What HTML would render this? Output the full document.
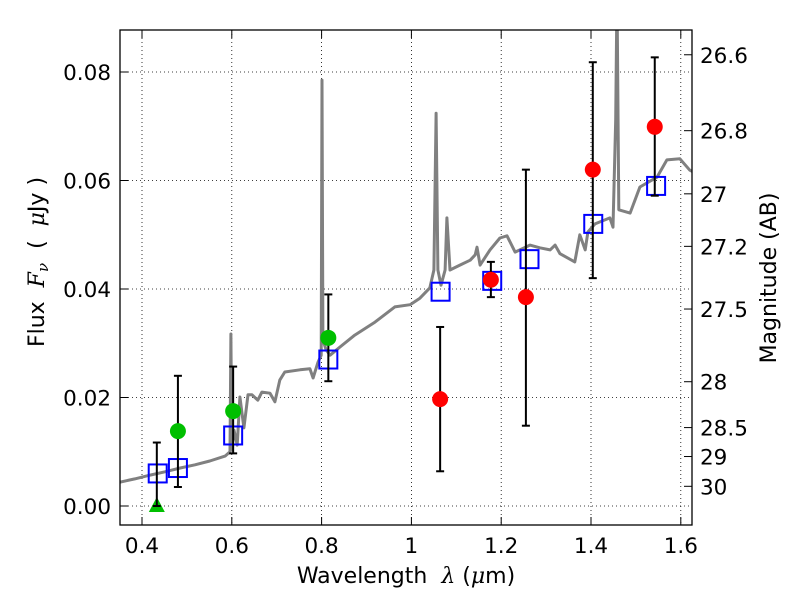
<!DOCTYPE html>
<html><head><meta charset="utf-8"><style>
body{margin:0;background:#fff;}
svg{display:block;font-family:"DejaVu Sans","Liberation Sans",sans-serif;}
</style></head><body>
<svg id="chart" width="800" height="600" viewBox="0 0 800 600" xmlns="http://www.w3.org/2000/svg">
<defs><clipPath id="plotclip"><rect x="120" y="30" width="572" height="495"/></clipPath></defs>
<rect x="0" y="0" width="800" height="600" fill="#fff"/>
<g id="grid"></g>
<g id="series" clip-path="url(#plotclip)"></g>
<rect x="120" y="30" width="572" height="495" fill="none" stroke="#000" stroke-width="1.3"/>
<g id="ticks"></g>
<text x="406" y="583" font-size="22" text-anchor="middle" xml:space="preserve">Wavelength  <tspan font-style="italic" font-family="DejaVu Serif,serif">λ</tspan> (<tspan font-style="italic" font-family="DejaVu Serif,serif">μ</tspan>m)</text>
<text transform="translate(44,262) rotate(-90)" font-size="22" text-anchor="middle" xml:space="preserve">Flux  <tspan font-style="italic" font-family="DejaVu Serif,serif">F</tspan><tspan font-style="italic" font-family="DejaVu Serif,serif" font-size="15" dy="4">ν</tspan><tspan dy="-4">  (  </tspan><tspan font-style="italic" font-family="DejaVu Serif,serif">μ</tspan>Jy )</text>
<text transform="translate(776,278) rotate(-90)" font-size="22" text-anchor="middle">Magnitude (AB)</text>
</svg>
<script>
const specWl=[0.351,0.384,0.418,0.451,0.485,0.518,0.551,0.585,0.596,0.598,0.600,0.605,0.612,0.618,0.627,0.636,0.645,0.658,0.667,0.685,0.696,0.707,0.718,0.752,0.774,0.781,0.792,0.799,0.801,0.803,0.810,0.819,0.841,0.874,0.919,0.963,0.997,1.019,1.041,1.050,1.055,1.059,1.066,1.075,1.079,1.086,1.108,1.131,1.142,1.146,1.153,1.175,1.197,1.213,1.231,1.264,1.286,1.309,1.320,1.331,1.364,1.375,1.387,1.393,1.409,1.442,1.449,1.455,1.458,1.462,1.487,1.509,1.547,1.569,1.598,1.620,1.63];
const specFlux=[0.0044,0.0050,0.0057,0.0063,0.0070,0.0076,0.0083,0.0092,0.0100,0.0317,0.0103,0.0140,0.0112,0.0201,0.0144,0.0205,0.0205,0.0195,0.0210,0.0208,0.0192,0.0232,0.0247,0.0251,0.0253,0.0236,0.0265,0.0278,0.0785,0.0306,0.0288,0.0278,0.0293,0.0315,0.0339,0.0367,0.0371,0.0383,0.0402,0.0435,0.0724,0.0435,0.0407,0.0435,0.0531,0.0435,0.0444,0.0453,0.0463,0.0477,0.0444,0.0472,0.0494,0.0498,0.0468,0.0481,0.0476,0.0472,0.0481,0.0465,0.0450,0.0500,0.0472,0.0505,0.0520,0.0531,0.0514,0.0712,0.095,0.0546,0.0540,0.0588,0.0606,0.0638,0.0640,0.0619,0.0615];
const modelWl=[0.435,0.48,0.603,0.815,1.065,1.18,1.263,1.405,1.545];
const modelFlux=[0.006,0.007,0.013,0.027,0.0395,0.0415,0.0455,0.052,0.059];
const greenWl=[0.48,0.603,0.815];
const greenFlux=[0.0138,0.0175,0.031];
const greenHi=[0.024,0.0257,0.039];
const greenLo=[0.0035,0.0097,0.023];
const limWl=[0.433];
const limFlux=[0.0];
const limHi=[0.0117];
const redWl=[1.064,1.177,1.255,1.404,1.542];
const redFlux=[0.0197,0.0417,0.0385,0.062,0.0699];
const redHi=[0.033,0.045,0.062,0.0818,0.0827];
const redLo=[0.0064,0.0385,0.0148,0.042,0.0572];
const xTicks=[0.4,0.6,0.8,1.0,1.2,1.4,1.6];
const xTickLabels=["0.4","0.6","0.8","1","1.2","1.4","1.6"];
const yTicks=[0,0.02,0.04,0.06,0.08];
const yTickLabels=["0.00","0.02","0.04","0.06","0.08"];
const magTicks=[26.6,26.8,27,27.2,27.5,28,28.5,29,30];
const magTickLabels=["26.6","26.8","27","27.2","27.5","28","28.5","29","30"];

const NS="http://www.w3.org/2000/svg";
function X(w){return 142+(w-0.4)*449;}
function Y(f){return 506-f*5425;}
function magToFlux(m){return Math.pow(10,(23.9-m)/2.5);}
function mk(tag,attrs,parent){const e=document.createElementNS(NS,tag);for(const k in attrs)e.setAttribute(k,attrs[k]);parent.appendChild(e);return e;}
const grid=document.getElementById('grid'),series=document.getElementById('series'),ticks=document.getElementById('ticks');
const FS=21.5;
xTicks.forEach((t,i)=>{
  const x=X(t);
  const g=mk('line',{x1:x,x2:x,y1:30,y2:525,stroke:'#000','stroke-width':0.8,'stroke-dasharray':'1,3'},grid);
  
  
  mk('line',{x1:x,x2:x,y1:525,y2:517,stroke:'#000','stroke-width':1},ticks);
  mk('line',{x1:x,x2:x,y1:30,y2:38,stroke:'#000','stroke-width':1},ticks);
  const tx=mk('text',{x:x,y:553,'font-size':FS,'text-anchor':'middle'},ticks);
  tx.textContent=xTickLabels[i];
  
  
});
yTicks.forEach((t,i)=>{
  const y=Y(t);
  const g=mk('line',{x1:120,x2:692,y1:y,y2:y,stroke:'#000','stroke-width':0.8,'stroke-dasharray':'1,3'},grid);
  
  
  mk('line',{x1:120,x2:128,y1:y,y2:y,stroke:'#000','stroke-width':1},ticks);
  const tx=mk('text',{x:111,y:y+8,'font-size':FS,'text-anchor':'end'},ticks);
  tx.textContent=yTickLabels[i];
  
  
});
magTicks.forEach((m,i)=>{
  const y=Y(magToFlux(m));
  mk('line',{x1:684,x2:692,y1:y,y2:y,stroke:'#000','stroke-width':1},ticks);
  const tx=mk('text',{x:700,y:y+8,'font-size':FS,'text-anchor':'start'},ticks);
  tx.textContent=magTickLabels[i];
  
  
});

const pts=specWl.map((w,i)=>X(w).toFixed(1)+','+Y(specFlux[i]).toFixed(1)).join(' ');
const sp=mk('polyline',{points:pts,fill:'none',stroke:'#808080','stroke-width':3,'stroke-linejoin':'round'},series);



function errbar(w,lo,hi){
  const x=X(w);
  mk('line',{x1:x,x2:x,y1:Y(lo),y2:Y(hi),stroke:'#000','stroke-width':2},series);
  mk('line',{x1:x-4,x2:x+4,y1:Y(lo),y2:Y(lo),stroke:'#000','stroke-width':2},series);
  mk('line',{x1:x-4,x2:x+4,y1:Y(hi),y2:Y(hi),stroke:'#000','stroke-width':2},series);
}
modelWl.forEach((w,i)=>{
  const r=mk('rect',{x:X(w)-9,y:Y(modelFlux[i])-9,width:18,height:18,fill:'none',stroke:'#0000ff','stroke-width':2},series);
  
  
});
greenWl.forEach((w,i)=>{
  errbar(w,greenLo[i],greenHi[i]);
  const c=mk('circle',{cx:X(w),cy:Y(greenFlux[i]),r:8,fill:'#00bf00'},series);
  
  
});
limWl.forEach((w,i)=>{
  const x=X(w),y=Y(limFlux[i]);
  const p=mk('polygon',{points:`${x},${y-9} ${x-8},${y+6} ${x+8},${y+6}`,fill:'#00bf00'},series);
  
  
  errbar(w,limFlux[i],limHi[i]);
});
redWl.forEach((w,i)=>{
  errbar(w,redLo[i],redHi[i]);
  const c=mk('circle',{cx:X(w),cy:Y(redFlux[i]),r:8,fill:'#ff0000'},series);
  
  
});
</script>
</body></html>
